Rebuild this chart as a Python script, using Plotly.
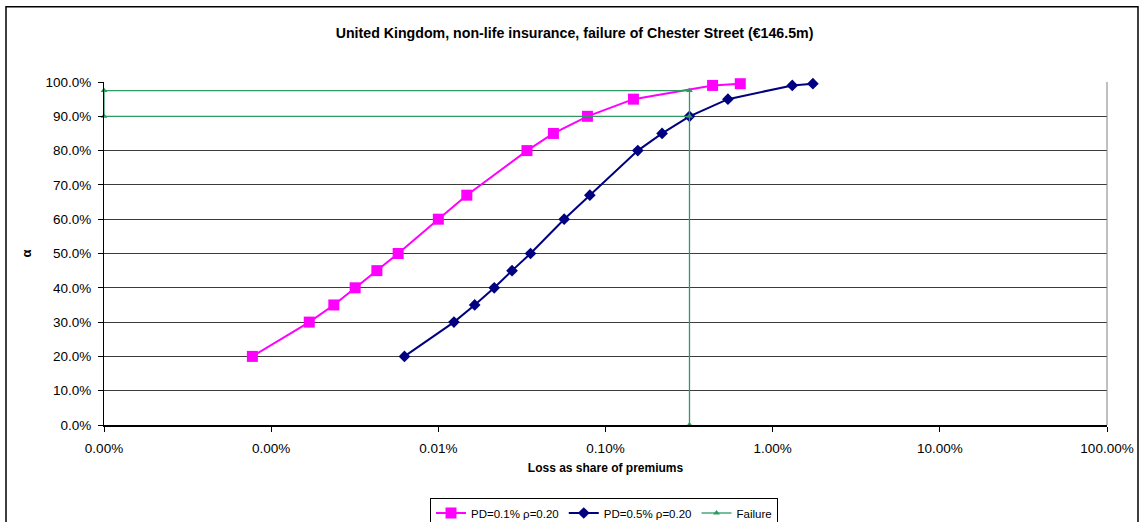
import plotly.graph_objects as go

# Loss quantiles (share of premiums) at each confidence level alpha
alpha_pd01 = [0.20, 0.30, 0.35, 0.40, 0.45, 0.50, 0.60, 0.67, 0.80, 0.85, 0.90, 0.95, 0.99, 0.995]
loss_pd01 = [7.72e-6, 1.69e-5, 2.37e-5, 3.18e-5, 4.29e-5, 5.75e-5, 1.00e-4, 1.48e-4,
             3.39e-4, 4.88e-4, 7.80e-4, 1.47e-3, 4.37e-3, 6.40e-3]

alpha_pd05 = [0.20, 0.30, 0.35, 0.40, 0.45, 0.50, 0.60, 0.67, 0.80, 0.85, 0.90, 0.95, 0.99, 0.995]
loss_pd05 = [6.27e-5, 1.24e-4, 1.65e-4, 2.16e-4, 2.76e-4, 3.56e-4, 5.66e-4, 8.06e-4,
             1.56e-3, 2.18e-3, 3.18e-3, 5.40e-3, 1.31e-2, 1.74e-2]

# Chester Street failure marker path (loss 0.318% of premiums)
failure_x = [3.18e-3, 3.18e-3, 1e-6, 1e-6, 3.18e-3]
failure_y = [0.0, 0.975, 0.975, 0.90, 0.90]

# x-axis decades and their labels
x_tickvals = [1e-6, 1e-5, 1e-4, 1e-3, 1e-2, 1e-1, 1]
x_ticktext = ["0.00%", "0.00%", "0.01%", "0.10%", "1.00%", "10.00%", "100.00%"]

FONT = "Liberation Sans, Arial, sans-serif"

fig = go.Figure()

fig.add_trace(go.Scatter(
    x=loss_pd01, y=alpha_pd01, mode="lines+markers",
    name="PD=0.1% \u03c1=0.20",
    line=dict(color="#FF00FF", width=2),
    marker=dict(symbol="square", size=11, color="#FF00FF"),
    cliponaxis=False,
))
fig.add_trace(go.Scatter(
    x=loss_pd05, y=alpha_pd05, mode="lines+markers",
    name="PD=0.5% \u03c1=0.20",
    line=dict(color="#000080", width=2),
    marker=dict(symbol="diamond", size=9, color="#000080"),
    cliponaxis=False,
))
fig.add_trace(go.Scatter(
    x=failure_x, y=failure_y, mode="lines+markers",
    name="Failure",
    line=dict(color="#2E9A62", width=1.3),
    marker=dict(symbol="triangle-up", size=6, color="#2E9A62"),
    cliponaxis=False,
))

fig.update_layout(
    width=1140, height=522, autosize=False,
    margin=dict(l=104, r=33, t=82, b=97, autoexpand=False),
    paper_bgcolor="white", plot_bgcolor="white",
    font=dict(family=FONT, color="black", size=13),
    title=dict(
        text="<b>United Kingdom, non-life insurance, failure of Chester Street (\u20ac146.5m)</b>",
        x=0.504, xref="container", xanchor="center",
        y=1 - 33 / 522, yref="container", yanchor="middle",
        font=dict(family=FONT, size=14.2, color="black"),
    ),
    xaxis=dict(
        type="log", range=[-6, 0],
        tickvals=x_tickvals, ticktext=x_ticktext,
        ticks="outside", ticklen=5, tickcolor="black",
        showgrid=False, zeroline=False,
        showline=True, linecolor="black", linewidth=2,
        tickfont=dict(size=13.5, family=FONT, color="black"),
        ticklabelstandoff=5,
        title=dict(text="<b>Loss as share of premiums</b>",
                   font=dict(size=12, family=FONT, color="black"),
                   standoff=8),
    ),
    yaxis=dict(
        range=[0, 1], dtick=0.1, tick0=0, tickformat=".1%",
        ticks="outside", ticklen=5, tickcolor="black",
        showgrid=True, gridcolor="#3c3c3c", gridwidth=1,
        zeroline=False,
        showline=True, linecolor="black", linewidth=1,
        tickfont=dict(size=13.5, family=FONT, color="black"),
        ticklabelstandoff=4,
        title=dict(text="<b>\u03b1</b>",
                   font=dict(size=13, family=FONT, color="black"),
                   standoff=10),
    ),
    legend=dict(
        orientation="h",
        x=604 / 1140, xref="container", xanchor="center",
        y=1 - 497.5 / 522, yref="container", yanchor="top",
        bordercolor="black", borderwidth=1, bgcolor="white",
        font=dict(size=11.5, family=FONT, color="black"),
        itemwidth=30, tracegroupgap=0,
    ),
    showlegend=True,
    shapes=[
        # right edge of the plot area
        dict(type="line", xref="paper", yref="paper", x0=1, x1=1, y0=0, y1=1,
             line=dict(color="#808080", width=1)),
        # outer chart frame
        dict(type="rect", xref="paper", yref="paper",
             x0=-0.0977, x1=1.0309, y0=-0.32, y1=1.2195,
             line=dict(color="black", width=1.5), layer="below"),
    ],
)

fig.write_html("out.html")
